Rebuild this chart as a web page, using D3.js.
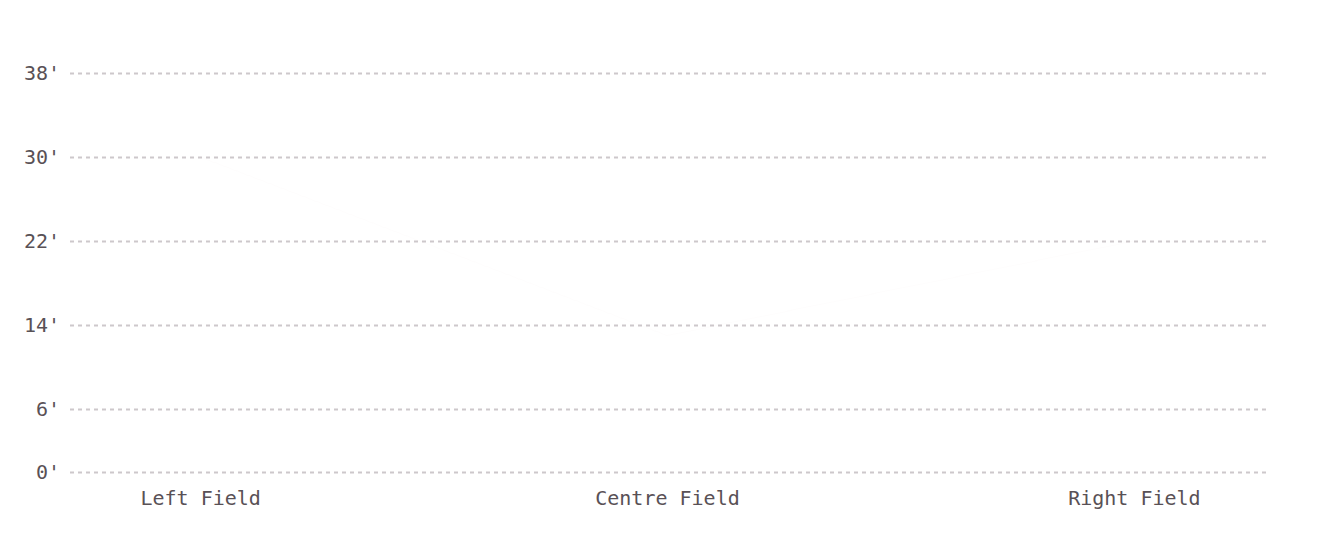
<!DOCTYPE html>
<html>
<head>
<meta charset="utf-8">
<script src="https://cdn.jsdelivr.net/npm/d3@7/dist/d3.min.js"></script>
<style>
  html, body { margin: 0; padding: 0; background: #ffffff; }
  svg { display: block; }
</style>
</head>
<body>
<svg id="chart" width="1322" height="538"></svg>
<script>
// Data
const fields = ["Left Field", "Centre Field", "Right Field"];
const yTicks = [0, 6, 14, 22, 30, 38];
// Wall-height profile (barely visible ghost trace in the reference)
const wallPositions = ["Left Field", "Centre Field", "Right Field"];
const wallHeights = [30, 13, 22];

const svg = d3.select("#chart");
const plotLeft = 70, plotRight = 1267, plotTop = 73, plotBottom = 472;

const x = d3.scalePoint().domain(fields).range([68, 1266]).padding(0.283);
const y = d3.scaleLinear().domain([0, 38]).range([plotBottom, plotTop]);

const textColor = "#595156";
const font = "'DejaVu Sans Mono', 'Liberation Mono', monospace";

// Gridlines via axis
const yAxis = d3.axisLeft(y).tickValues(yTicks).tickSize(-(plotRight - plotLeft)).tickFormat(d => d + "'").tickPadding(10);
const gy = svg.append("g").attr("transform", `translate(${plotLeft},0)`).call(yAxis);
gy.select(".domain").remove();
gy.selectAll(".tick line")
  .attr("stroke", "#cdc8cb")
  .attr("stroke-width", 1.8)
  .attr("stroke-dasharray", "4,4");
gy.selectAll(".tick text")
  .attr("fill", textColor)
  .attr("font-family", font)
  .attr("font-size", 20)
  .attr("x", -10);

// X axis labels
const xAxis = d3.axisBottom(x).tickSize(0).tickPadding(19);
const gx = svg.append("g").attr("transform", `translate(0,${plotBottom})`).call(xAxis);
gx.select(".domain").remove();
gx.selectAll(".tick text")
  .attr("fill", textColor)
  .attr("font-family", font)
  .attr("font-size", 20);

// Ghost wall line (nearly transparent, as in the reference)
const line = d3.line().x((d, i) => x(wallPositions[i])).y(d => y(d));
svg.append("path")
  .datum(wallHeights)
  .attr("d", line)
  .attr("fill", "none")
  .attr("stroke", "#c8a0a8")
  .attr("stroke-width", 1)
  .attr("stroke-opacity", 0.02);
</script>
</body>
</html>
